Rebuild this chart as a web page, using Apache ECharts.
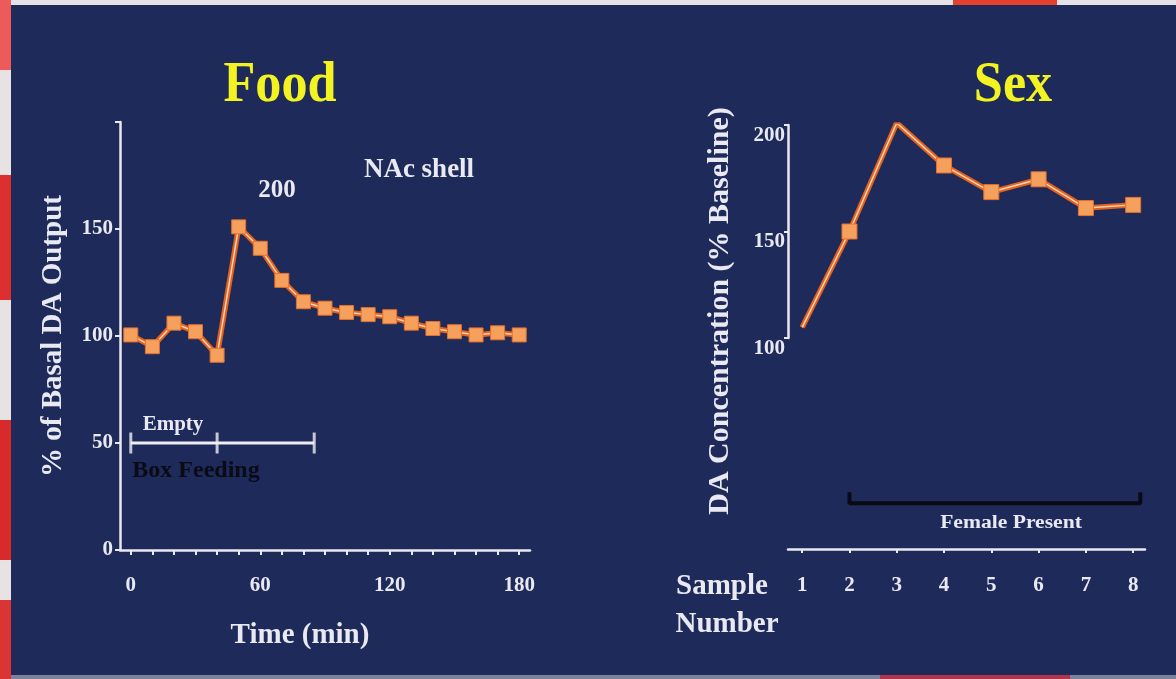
<!DOCTYPE html>
<html>
<head>
<meta charset="utf-8">
<title>Food and Sex: dopamine response</title>
<script src="https://cdn.jsdelivr.net/npm/echarts@6/dist/echarts.min.js"></script>
<style>
  html, body { margin: 0; padding: 0; background: #e6e4e6; }
  #chart { width: 1176px; height: 679px; }
</style>
</head>
<body>
<div id="chart"></div>
<script>
// Food panel: NAc shell DA output (% of basal) over time
const foodTimes = [0, 10, 20, 30, 40, 50, 60, 70, 80, 90, 100, 110, 120, 130, 140, 150, 160, 170, 180];
const foodValues = [100.5, 95, 106, 102, 91, 151, 141, 126, 116, 113, 111, 110, 109, 106, 103.5, 102, 100.5, 101.5, 100.5];
const foodYTicks = [0, 50, 100, 150, 200];
const foodYLabels = [0, 50, 100, 150];
const foodXTicks = [0, 10, 20, 30, 40, 50, 60, 70, 80, 90, 100, 110, 120, 130, 140, 150, 160, 170, 180];
const foodXLabels = [0, 60, 120, 180];
// Phase bar: empty box, then feeding, then end
const feedingMarks = [0, 40, 85];
const feedingLevel = 50;

// Sex panel: DA concentration (% baseline) per sample
const sexSamples = [1, 2, 3, 4, 5, 6, 7, 8];
const sexValues = [105, 150, 201, 181, 168.5, 174.5, 161, 162.5];
const sexYTicks = [100, 150, 200];
const femaleSpan = [2, 8.15];

const WHITE = '#e9e9f2';
const NAVY = '#1e2a5a';
const SERIF = "'Liberation Serif', 'DejaVu Serif', serif";

const chart = echarts.init(document.getElementById('chart'), null, { renderer: 'canvas' });

const foodData = foodTimes.map((t, i) => [t, foodValues[i]]);
const sexData = sexSamples.map((s, i) => (i === 0
  ? { value: [s, sexValues[i]], symbol: 'none' }
  : [s, sexValues[i]]));

const feedLine = [[feedingMarks[0], feedingLevel], [feedingMarks[feedingMarks.length - 1], feedingLevel]];
const feedCaps = feedingMarks.map(t => [t, feedingLevel]);
const femaleBracket = [[femaleSpan[0], 5.2], [femaleSpan[0], 4.2], [femaleSpan[1], 4.2], [femaleSpan[1], 5.2]];

const tickFont = { color: WHITE, fontFamily: SERIF, fontWeight: 'bold', fontSize: 21 };

function label(text, x, y, size, color, extra) {
  return Object.assign({
    type: 'text', x: x, y: y, z: 10,
    style: {
      text: text, fill: color || WHITE,
      fontFamily: SERIF, fontWeight: 'bold', fontSize: size,
      align: 'center', verticalAlign: 'middle',
      textAlign: 'center', textVerticalAlign: 'middle'
    }
  }, extra || {});
}

function rect(x, y, w, h, fill) {
  return { type: 'rect', z: -5, silent: true, shape: { x: x, y: y, width: w, height: h }, style: { fill: fill } };
}

const option = {
  animation: false,
  backgroundColor: NAVY,
  graphic: [
    // slide frame edges
    rect(0, 0, 1176, 5, '#e4e2e6'),
    rect(953, 0, 104, 5, '#e5402e'),
    rect(0, 675, 1176, 4, '#7d829c'),
    rect(880, 675, 190, 4, '#b0344a'),
    rect(0, 0, 11, 679, '#e8e2e2'),
    rect(0, 0, 11, 70, '#ec5a5a'),
    rect(0, 175, 11, 125, '#dc3030'),
    rect(0, 420, 11, 140, '#d82a2a'),
    rect(0, 600, 11, 79, '#da3434'),
    // titles
    label('Food', 280, 86, 58, '#f3f322', { scaleX: 0.9 }),
    label('Sex', 1013, 86, 58, '#f3f322', { scaleX: 0.9 }),
    // food annotations
    label('NAc shell', 419, 170, 27),
    label('200', 277, 191, 25),
    label('Empty', 173, 425, 21),
    label('Box Feeding', 196, 471, 24, '#0b0b16'),
    // sex annotations
    label('Female Present', 1011, 523, 18, WHITE, { scaleX: 1.2 }),
    label('Sample', 722, 587, 29),
    label('Number', 727, 625, 29),
    label('DA Concentration (% Baseline)', 720, 311, 30, WHITE, { rotation: Math.PI / 2 })
  ],
  grid: [
    { left: 120, top: 122, width: 410, height: 428 },
    { left: 788, top: 125, width: 357, height: 213 },
    { left: 788, top: 440, width: 357, height: 109 }
  ],
  xAxis: [
    {
      gridIndex: 0, type: 'value', min: -5, max: 185,
      axisLine: { show: true, onZero: false, lineStyle: { color: WHITE, width: 2.5 } },
      axisTick: { show: true, customValues: foodXTicks, length: 5, lineStyle: { color: WHITE, width: 2 } },
      axisLabel: Object.assign({ customValues: foodXLabels, margin: 25 }, tickFont),
      splitLine: { show: false },
      name: 'Time (min)', nameLocation: 'middle', nameGap: 71,
      nameTextStyle: { color: WHITE, fontFamily: SERIF, fontWeight: 'bold', fontSize: 29, padding: [0, 50, 0, 0] }
    },
    { gridIndex: 1, type: 'value', min: 0.7, max: 8.25, show: false },
    {
      gridIndex: 2, type: 'value', min: 0.7, max: 8.25,
      axisLine: { show: true, onZero: false, lineStyle: { color: WHITE, width: 2.5 } },
      axisTick: { show: true, customValues: sexSamples, length: 4, lineStyle: { color: WHITE, width: 2 } },
      axisLabel: Object.assign({ customValues: sexSamples, margin: 26 }, tickFont),
      splitLine: { show: false }
    }
  ],
  yAxis: [
    {
      gridIndex: 0, type: 'value', min: 0, max: 200,
      axisLine: { show: true, onZero: false, lineStyle: { color: WHITE, width: 2.5 } },
      axisTick: { show: true, customValues: foodYTicks, length: 5, lineStyle: { color: WHITE, width: 2 } },
      axisLabel: Object.assign({ customValues: foodYLabels, margin: 7 }, tickFont),
      splitLine: { show: false },
      name: '% of Basal DA Output', nameLocation: 'middle', nameGap: 52, nameRotate: 90,
      nameTextStyle: { color: WHITE, fontFamily: SERIF, fontWeight: 'bold', fontSize: 29 }
    },
    {
      gridIndex: 1, type: 'value', min: 100, max: 200,
      axisLine: { show: true, onZero: false, lineStyle: { color: WHITE, width: 2.5 } },
      axisTick: { show: true, customValues: sexYTicks, length: 4, lineStyle: { color: WHITE, width: 2 } },
      axisLabel: Object.assign({ customValues: sexYTicks, margin: 3, verticalAlign: 'top' }, tickFont),
      splitLine: { show: false }
    },
    { gridIndex: 2, type: 'value', min: 0, max: 10, show: false }
  ],
  series: [
    // Food: orange outer stroke, pale core, square markers
    {
      type: 'line', xAxisIndex: 0, yAxisIndex: 0, data: foodData, symbol: 'none', silent: true, z: 3,
      lineStyle: { color: '#e4621c', width: 5.5 }
    },
    {
      type: 'line', xAxisIndex: 0, yAxisIndex: 0, data: foodData, silent: true, z: 4,
      symbol: 'rect', symbolSize: 14,
      lineStyle: { color: '#fbd2bb', width: 1.5 },
      itemStyle: { color: '#f6a05e', borderColor: '#e5702a', borderWidth: 1 }
    },
    // Empty / feeding phase bar
    {
      type: 'line', xAxisIndex: 0, yAxisIndex: 0, data: feedLine, symbol: 'none', silent: true, z: 3,
      lineStyle: { color: '#eeeef4', width: 3 }
    },
    {
      type: 'scatter', xAxisIndex: 0, yAxisIndex: 0, data: feedCaps, silent: true, z: 3,
      symbol: 'rect', symbolSize: [3, 21], itemStyle: { color: '#eeeef4' }
    },
    // Sex
    {
      type: 'line', xAxisIndex: 1, yAxisIndex: 1, data: sexData, symbol: 'none', silent: true, z: 3,
      lineStyle: { color: '#e4621c', width: 5.5 }
    },
    {
      type: 'line', xAxisIndex: 1, yAxisIndex: 1, data: sexData, silent: true, z: 4,
      symbol: 'rect', symbolSize: 15,
      lineStyle: { color: '#fbd2bb', width: 1.5 },
      itemStyle: { color: '#f6a05e', borderColor: '#e5702a', borderWidth: 1 }
    },
    // Female present bracket
    {
      type: 'line', xAxisIndex: 2, yAxisIndex: 2, data: femaleBracket, symbol: 'none', silent: true, z: 3,
      lineStyle: { color: '#0a0a12', width: 4 }
    }
  ]
};

chart.setOption(option);
</script>
</body>
</html>
